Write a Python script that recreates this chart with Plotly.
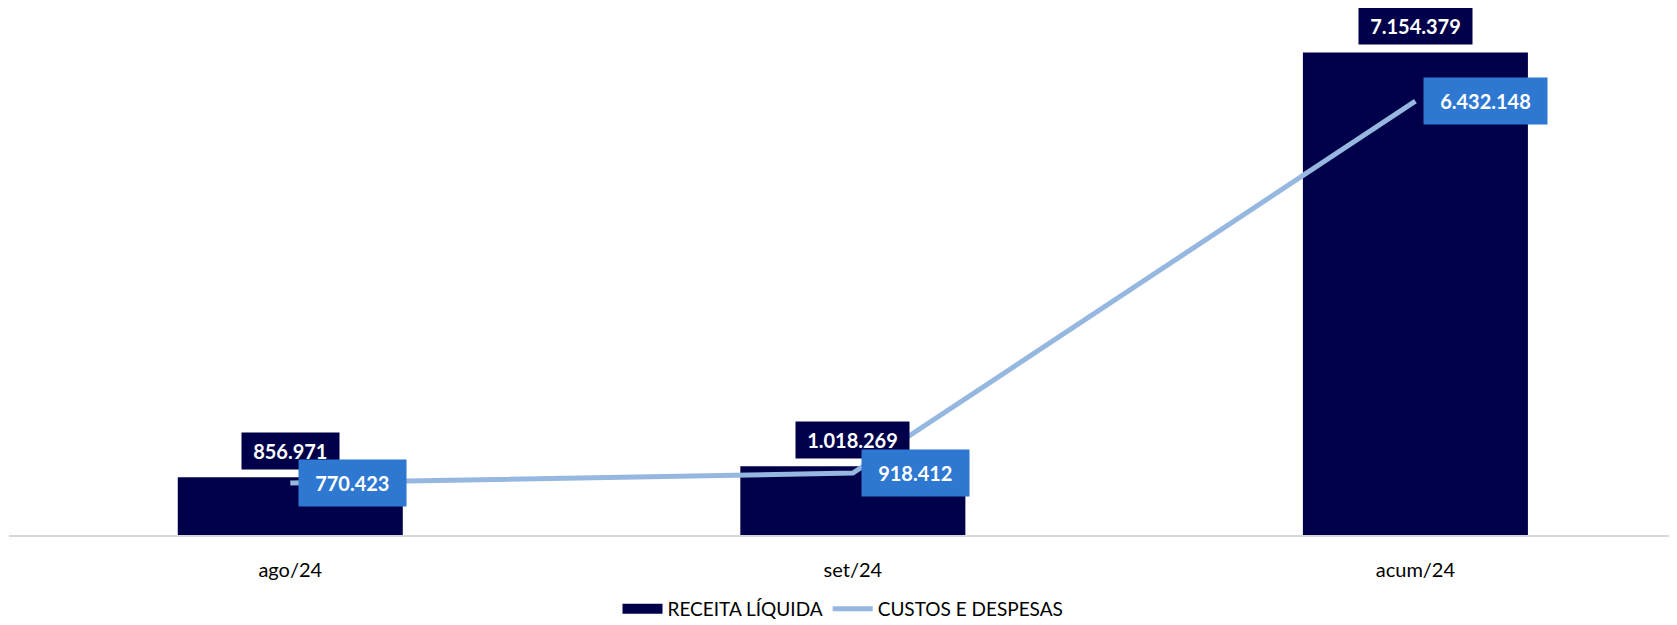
import plotly.graph_objects as go

# Receita líquida vs custos e despesas (R$), mensal e acumulado
periods = ["ago/24", "set/24", "acum/24"]
receita = [856971, 1018269, 7154379]
custos = [770423, 918412, 6432148]


def br(v):
    return f"{v:,}".replace(",", ".")


NAVY = "#00004A"
LINE = "#95B7E0"
BLUE_BOX = "#2E78D2"
FONT = "Lato, Noto Sans, sans-serif"

fig = go.Figure()
fig.add_trace(
    go.Bar(
        name="RECEITA LÍQUIDA",
        x=periods,
        y=receita,
        marker=dict(color=NAVY, line=dict(width=0)),
        width=0.4,
        showlegend=False,
    )
)
# legend entry with a wide swatch, like the original
fig.add_trace(
    go.Scatter(
        name="RECEITA LÍQUIDA",
        x=[None],
        y=[None],
        mode="lines",
        line=dict(color=NAVY, width=14),
    )
)
fig.add_trace(
    go.Scatter(
        name="CUSTOS E DESPESAS",
        x=periods,
        y=custos,
        mode="lines",
        line=dict(color=LINE, width=5),
    )
)

# labels with coloured boxes
for p, v in zip(periods, receita):
    fig.add_annotation(
        x=p, y=v, text="&nbsp;<b>" + br(v) + "</b>&nbsp;", showarrow=False,
        yanchor="bottom", yshift=7, bgcolor=NAVY, borderpad=6,
        font=dict(color="white", size=20, family=FONT),
    )
for p, v in zip(periods, custos):
    fig.add_annotation(
        x=p, y=v, text="&nbsp;<b>" + br(v) + "</b>&nbsp;", showarrow=False,
        xanchor="left", xshift=8, yanchor="middle", bgcolor=BLUE_BOX,
        borderpad=11, font=dict(color="white", size=20, family=FONT),
    )

# the page body adds 8px around the figure, so keep it inside the window
fig.update_layout(
    width=1669,
    height=617,
    margin=dict(l=1, r=0, t=0, b=90),
    plot_bgcolor="white",
    paper_bgcolor="white",
    font=dict(family=FONT, size=20, color="#000000"),
    showlegend=True,
    legend=dict(
        orientation="h", x=0.5, xanchor="center",
        yref="container", y=0.026, yanchor="middle",
        font=dict(size=19, color="#000000"), itemwidth=40, traceorder="normal",
    ),
    xaxis=dict(
        range=[-0.5, 2.465],
        showline=True, linecolor="#D9D9D9", linewidth=2,
        showgrid=False, ticks="", ticklabelstandoff=16,
    ),
    yaxis=dict(range=[0, 7814000], visible=False, showgrid=False),
)

fig.write_html("out.html")
